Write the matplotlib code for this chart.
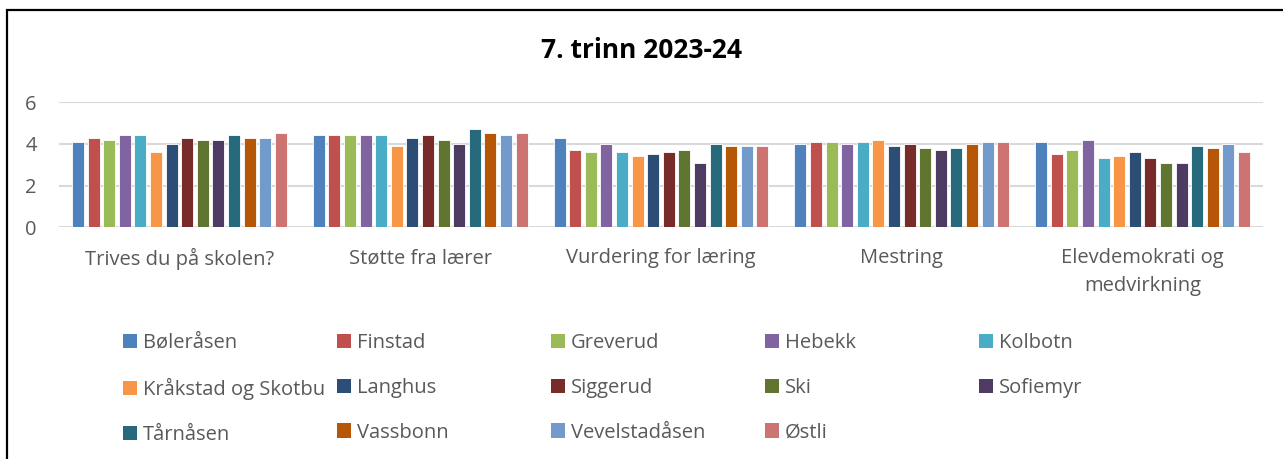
import matplotlib
matplotlib.use("Agg")
import matplotlib.pyplot as plt
from matplotlib.patches import Rectangle, Patch
import numpy as np

title = "7. trinn 2023-24"
categories = ["Trives du på skolen?", "Støtte fra lærer", "Vurdering for læring",
              "Mestring", "Elevdemokrati og\nmedvirkning"]
schools = ["Bøleråsen", "Finstad", "Greverud", "Hebekk", "Kolbotn",
           "Kråkstad og Skotbu", "Langhus", "Siggerud", "Ski", "Sofiemyr",
           "Tårnåsen", "Vassbonn", "Vevelstadåsen", "Østli"]
colors = ["#4F81BD", "#C0504D", "#9BBB59", "#8064A2", "#4BACC6",
          "#F79646", "#2C4D75", "#772C2A", "#5F7530", "#4D3B62",
          "#276A7C", "#B65708", "#729ACA", "#CD7371"]
# values[school] = per category
values = {
    "Bøleråsen":          [4.1, 4.4, 4.3, 4.0, 4.1],
    "Finstad":            [4.3, 4.4, 3.7, 4.1, 3.5],
    "Greverud":           [4.2, 4.4, 3.6, 4.1, 3.7],
    "Hebekk":             [4.4, 4.4, 4.0, 4.0, 4.2],
    "Kolbotn":            [4.4, 4.4, 3.6, 4.1, 3.3],
    "Kråkstad og Skotbu": [3.6, 3.9, 3.4, 4.2, 3.4],
    "Langhus":            [4.0, 4.3, 3.5, 3.9, 3.6],
    "Siggerud":           [4.3, 4.4, 3.6, 4.0, 3.3],
    "Ski":                [4.2, 4.2, 3.7, 3.8, 3.1],
    "Sofiemyr":           [4.2, 4.0, 3.1, 3.7, 3.1],
    "Tårnåsen":           [4.4, 4.7, 4.0, 3.8, 3.9],
    "Vassbonn":           [4.3, 4.5, 3.9, 4.0, 3.8],
    "Vevelstadåsen":      [4.3, 4.4, 3.9, 4.1, 4.0],
    "Østli":              [4.5, 4.5, 3.9, 4.1, 3.6],
}
yticks = [0, 2, 4, 6]

plt.rcParams['font.family'] = ['Open Sans', 'DejaVu Sans']
W, H = 1283, 459
fig = plt.figure(figsize=(W / 100, H / 100), dpi=100)
fig.patch.set_facecolor("white")

# outer frame
fig.patches.append(Rectangle((7 / W, -0.2), 1.5, 1.2 - 10 / H,
                             transform=fig.transFigure, fill=False,
                             edgecolor="black", linewidth=1.6))

ax = fig.add_axes([59 / W, 1 - 227.3 / H, (1263 - 59) / W, (227.3 - 102) / H])
x = np.arange(len(categories))
pitch = 0.0648
bw = 0.05
n = len(schools)
handles = []
for i, s in enumerate(schools):
    off = (i - (n - 1) / 2) * pitch
    ax.bar(x + off, values[s], width=bw, color=colors[i],
           edgecolor="white", linewidth=0.6, zorder=3)
    handles.append(Patch(facecolor=colors[i], edgecolor="none"))

ax.set_xlim(-0.5, len(categories) - 0.5)
ax.set_ylim(0, 6)
ax.set_yticks(yticks)
ax.yaxis.grid(True, color="#D9D9D9", linewidth=1.5, zorder=0)
ax.set_axisbelow(True)
for sp in ax.spines.values():
    sp.set_visible(False)
ax.tick_params(axis="both", length=0, colors="#595959", labelsize=14.5)
ax.tick_params(axis="y", pad=16)
ax.tick_params(axis="x", pad=15)
ax.set_xticks(x)
ax.set_xticklabels(categories, linespacing=1.5)

fig.text(0.5, 1 - 50 / H, title, ha="center", va="center",
         fontsize=19, fontweight="bold", color="black")

col_x = [123, 337, 551, 765, 979]
for c in range(5):
    idx = list(range(c, n, 5))
    fig.legend([handles[i] for i in idx], [schools[i] for i in idx],
               loc="upper left", bbox_to_anchor=((col_x[c]) / W, 1 - 333 / H),
               frameon=False, fontsize=14.5, handlelength=0.7, handleheight=0.7,
               handletextpad=0.3, labelspacing=1.23, borderpad=0, borderaxespad=0,
               labelcolor="#595959")

fig.savefig("out.png", dpi=100, facecolor="white")
